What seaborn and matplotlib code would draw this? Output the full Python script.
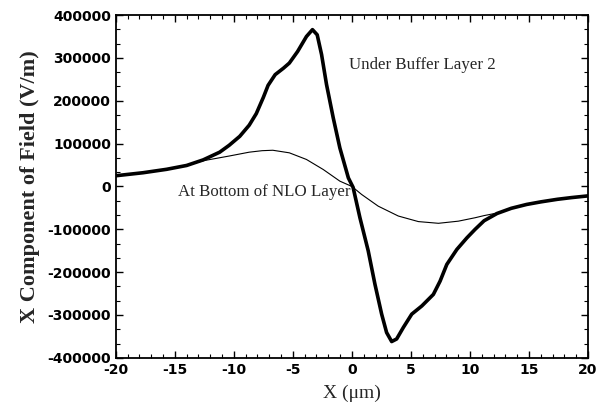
import matplotlib
matplotlib.use("Agg")
import matplotlib.pyplot as plt
from matplotlib.ticker import MultipleLocator, AutoMinorLocator
import seaborn as sns
import pandas as pd

# Data
x_buffer = [-20, -17.7, -15.7, -14.0, -12.6, -11.2, -10.4, -9.5, -8.7, -8.1, -7.5,
            -7.1, -6.5, -5.8, -5.3, -4.6, -3.85, -3.34, -2.94, -2.57, -2.15, -1.58,
            -1.02, -0.3, 0.1, 0.68, 1.38, 1.95, 2.52, 2.94, 3.37, 3.79, 4.36, 5.07,
            5.92, 6.9, 7.47, 8.04, 8.89, 9.74, 10.44, 11.2, 12.3, 13.5, 14.8, 16.0,
            17.4, 18.6, 20]
y_buffer = [25000, 32000, 40000, 49000, 62000, 80000, 96000, 117000, 143000, 170000,
            208000, 236000, 261000, 276000, 288000, 315000, 350000, 366000, 354000,
            308000, 238000, 160000, 90000, 20000, -2000, -73000, -150000, -228000,
            -298000, -341000, -362000, -356000, -329000, -298000, -279000, -252000,
            -221000, -182000, -147000, -120000, -100000, -80000, -63000, -51000,
            -42000, -36000, -30000, -26000, -22000]

x_nlo = [-20, -17.7, -15.7, -14.0, -12.6, -11.2, -10.4, -8.7, -7.6, -6.7, -5.3,
         -3.85, -2.43, -1.02, 0.0, 0.82, 2.23, 3.93, 5.63, 7.33, 9.02, 10.44, 11.2,
         12.3, 13.5, 14.8, 16.0, 17.4, 18.6, 20]
y_nlo = [25000, 32000, 40000, 49000, 60000, 67000, 71000, 80000, 83500, 84500,
         78500, 63000, 39600, 12400, 0, -18600, -46000, -69000, -82000, -86000,
         -81000, -73000, -68000, -62000, -51000, -42000, -36000, -30000, -26000,
         -22000]

label_buffer = "Under Buffer Layer 2"
label_nlo = "At Bottom of NLO Layer"
x_title = "X (\u03bcm)"
y_title = "X Component of Field (V/m)"
x_ticks = [-20, -15, -10, -5, 0, 5, 10, 15, 20]
y_ticks = [-400000, -300000, -200000, -100000, 0, 100000, 200000, 300000, 400000]

sns.set_style("ticks")

df_b = pd.DataFrame({"x": x_buffer, "y": y_buffer})
df_n = pd.DataFrame({"x": x_nlo, "y": y_nlo})

fig = plt.figure(figsize=(6.0, 4.19), dpi=100)
ax = fig.add_axes([0.193, 0.146, 0.787, 0.818])

sns.lineplot(data=df_b, x="x", y="y", ax=ax, color="black", linewidth=2.6, sort=False)
sns.lineplot(data=df_n, x="x", y="y", ax=ax, color="black", linewidth=0.8, sort=False)
for ln in ax.lines:
    ln.set_solid_joinstyle("round")
    ln.set_solid_capstyle("round")

ax.set_xlim(-20, 20)
ax.set_ylim(-400000, 400000)
ax.set_xticks(x_ticks)
ax.set_yticks(y_ticks)
ax.xaxis.set_minor_locator(MultipleLocator(1))
ax.yaxis.set_minor_locator(AutoMinorLocator(3))
ax.set_xticklabels([str(v) for v in x_ticks], fontfamily="DejaVu Sans", fontweight="bold", fontsize=10)
ax.set_yticklabels([str(v) for v in y_ticks], fontfamily="DejaVu Sans", fontweight="bold", fontsize=10)

ax.tick_params(which="both", direction="in", top=True, right=True, colors="black")
ax.tick_params(which="major", length=5, width=1)
ax.tick_params(which="minor", length=3, width=0.8)
for s in ax.spines.values():
    s.set_visible(True)
    s.set_linewidth(1.3)
    s.set_color("black")

ax.set_xlabel(x_title, fontfamily="Liberation Serif", fontsize=14, labelpad=6)
ax.set_ylabel(y_title, fontfamily="Liberation Serif", fontsize=16, fontweight="bold", labelpad=5)

ax.text(6.0, 284000, label_buffer, fontfamily="Liberation Serif", fontsize=12.2,
        ha="center", va="center")
ax.text(-7.4, -12000, label_nlo, fontfamily="Liberation Serif", fontsize=12.2,
        ha="center", va="center")

fig.savefig("out.png", dpi=100)
